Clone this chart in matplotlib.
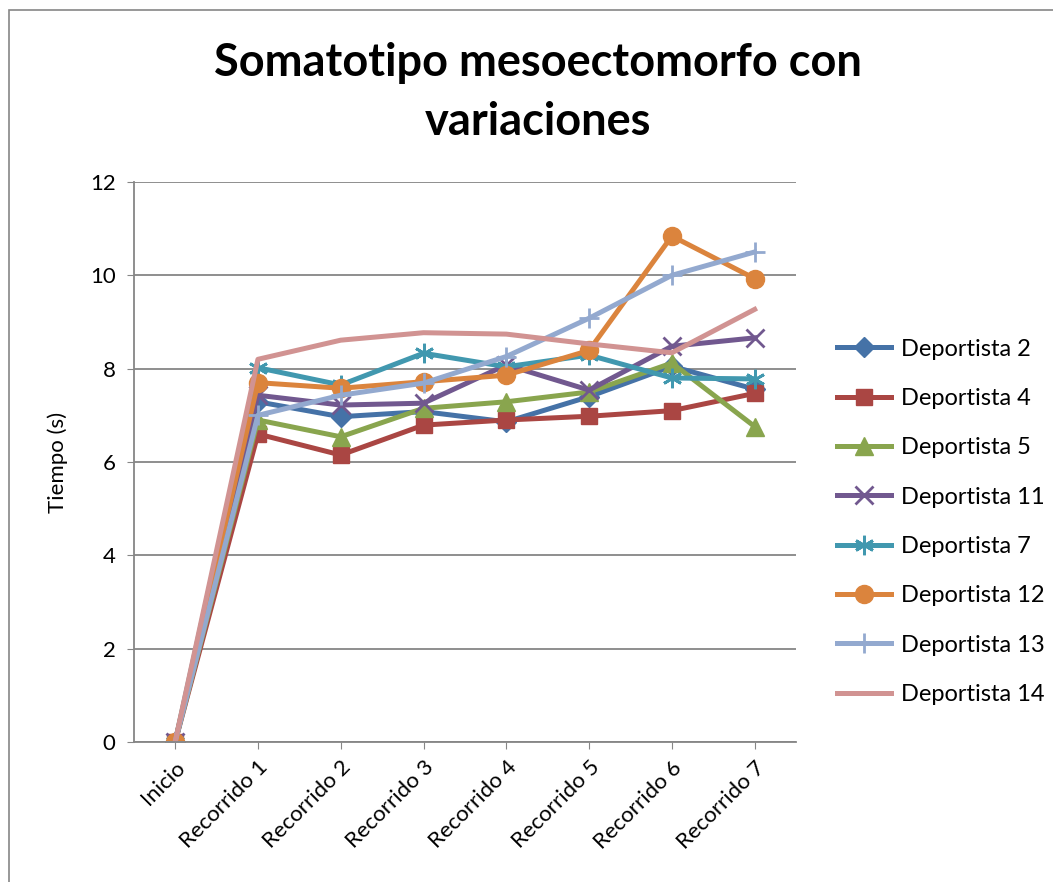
import matplotlib
matplotlib.use("Agg")
import matplotlib.pyplot as plt
from matplotlib.patches import Rectangle

categories = ["Inicio", "Recorrido 1", "Recorrido 2", "Recorrido 3", "Recorrido 4",
              "Recorrido 5", "Recorrido 6", "Recorrido 7"]

dep2 = [0, 7.29, 6.97, 7.08, 6.86, 7.40, 8.05, 7.56]
dep4 = [0, 6.60, 6.15, 6.79, 6.90, 6.98, 7.10, 7.47]
dep5 = [0, 6.90, 6.54, 7.15, 7.29, 7.50, 8.12, 6.76]
dep11 = [0, 7.43, 7.22, 7.26, 8.08, 7.54, 8.48, 8.66]
dep7 = [0, 8.02, 7.65, 8.33, 8.04, 8.29, 7.80, 7.78]
dep12 = [0, 7.70, 7.58, 7.72, 7.86, 8.39, 10.84, 9.93]
dep13 = [0, 7.00, 7.43, 7.69, 8.26, 9.08, 10.00, 10.50]
dep14 = [0, 8.20, 8.61, 8.77, 8.74, 8.53, 8.34, 9.27]

labels = ["Deportista 2", "Deportista 4", "Deportista 5", "Deportista 11",
          "Deportista 7", "Deportista 12", "Deportista 13", "Deportista 14"]
colors = ["#4572A7", "#AA4643", "#89A54E", "#71588F", "#4198AF", "#DB843D", "#93A9CF", "#D19392"]
markers = ["D", "s", "^", "x", "*", "o", "+", None]
msizes = [10, 12, 13, 13, 14, 13, 15, 0]

plt.rcParams["font.family"] = ["Lato", "DejaVu Sans"]

fig = plt.figure(figsize=(10.53, 8.82), dpi=100)
ax = fig.add_axes([0.127, 0.1587, 0.629, 0.635])

series = [dep2, dep4, dep5, dep11, dep7, dep12, dep13, dep14]
x = list(range(len(categories)))
for vals, lab, col, mk, ms in zip(series, labels, colors, markers, msizes):
    if mk == "*":
        # asterisk-like marker
        ax.plot(x, vals, color=col, lw=3.6, marker=(6, 2, 0), ms=ms, mew=2, label=lab)
    elif mk in ("x", "+"):
        ax.plot(x, vals, color=col, lw=3.6, marker=mk, ms=ms, mew=2, label=lab)
    elif mk is None:
        ax.plot(x, vals, color=col, lw=3.6, label=lab)
    else:
        ax.plot(x, vals, color=col, lw=3.6, marker=mk, ms=ms, mec=col, label=lab)

ax.set_xlim(-0.5, 7.5)
ax.set_ylim(0, 12)
ax.set_yticks(range(0, 13, 2))
ax.set_xticks(x)
ax.set_xticklabels(categories, rotation=45, ha="right", rotation_mode="anchor", fontsize=16)
ax.tick_params(axis="y", labelsize=16, length=5, color="#868686", pad=8)
ax.tick_params(axis="x", length=5, color="#868686", pad=6)
ax.grid(axis="y", color="#868686", lw=1.3)
ax.set_axisbelow(True)
for side in ["top", "right"]:
    ax.spines[side].set_visible(False)
for side in ["left", "bottom"]:
    ax.spines[side].set_color("#868686")
    ax.spines[side].set_linewidth(1.3)
ax.set_ylabel("Tiempo (s)", fontsize=16, labelpad=16)

fig.text(0.511, 0.895, "Somatotipo mesoectomorfo con\nvariaciones", fontsize=32.5,
         fontweight="bold", ha="center", va="center", linespacing=1.5)

ax.legend(loc="center left", bbox_to_anchor=(1.03, 0.393), frameon=False, fontsize=17,
          handlelength=2.3, labelspacing=1.2, handletextpad=0.4)

fig.patches.append(Rectangle((0.009, -0.01), 1.1, 0.999, transform=fig.transFigure,
                             fill=False, edgecolor="#868686", lw=1.2))

fig.savefig("out.png", dpi=100)
